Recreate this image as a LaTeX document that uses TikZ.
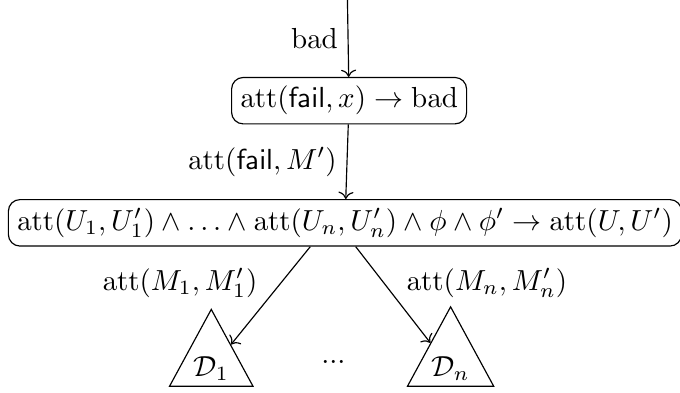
\documentclass[tikz,border=0pt]{standalone}
\usepackage{amsmath}
\usetikzlibrary{arrows.meta, shapes.geometric, calc}

\begin{document}
\begin{tikzpicture}[
    >=To,
    rulebox/.style={draw, rounded corners=4pt, inner sep=3pt},
    deriv/.style={draw, isosceles triangle, isosceles triangle apex angle=57,
      shape border rotate=90, inner sep=1.8pt}
  ]
  \useasboundingbox (0,0) rectangle (8.24,4.75);

  % --- coordinates -----------------------------------------------------
  \coordinate (Top) at (4.21,4.75);

  % --- rules -------------------------------------------------------------
  \node[rulebox] (BadRule) at (4.23,3.53)
    {$\mathrm{att}(\mathsf{fail},x)\rightarrow\mathrm{bad}$};
  \node[rulebox] (Rule) at (4.18,2.05)
    {$\mathrm{att}(U_1,U_1')\wedge\ldots\wedge\mathrm{att}(U_n,U_n')\wedge\phi\wedge\phi'\rightarrow\mathrm{att}(U,U')$};

  % --- sub-derivations ---------------------------------------------------
  \node[deriv] (D1) at (2.56,0.28) {$\mathcal{D}_1$};
  \node[deriv] (Dn) at (5.46,0.28) {$\mathcal{D}_n$};
  \node (Dots) at (4.04,0.36) {...};

  \coordinate (RuleL) at ($(Rule.south)+(-0.42,0)$);
  \coordinate (RuleR) at ($(Rule.south)+(0.13,0)$);

  % --- edges ---------------------------------------------------------------
  \draw[->] (Top) -- (BadRule) node[midway, left] {$\mathrm{bad}$};
  \draw[->] (BadRule) -- (Rule) node[midway, left] {$\mathrm{att}(\mathsf{fail},M')$};
  \draw[->] (RuleL) -- (D1);
  \draw[->] (RuleR) -- (Dn);
  \node at (2.18,1.32) {$\mathrm{att}(M_1,M_1')$};
  \node at (5.90,1.32) {$\mathrm{att}(M_n,M_n')$};

\end{tikzpicture}
\end{document}
